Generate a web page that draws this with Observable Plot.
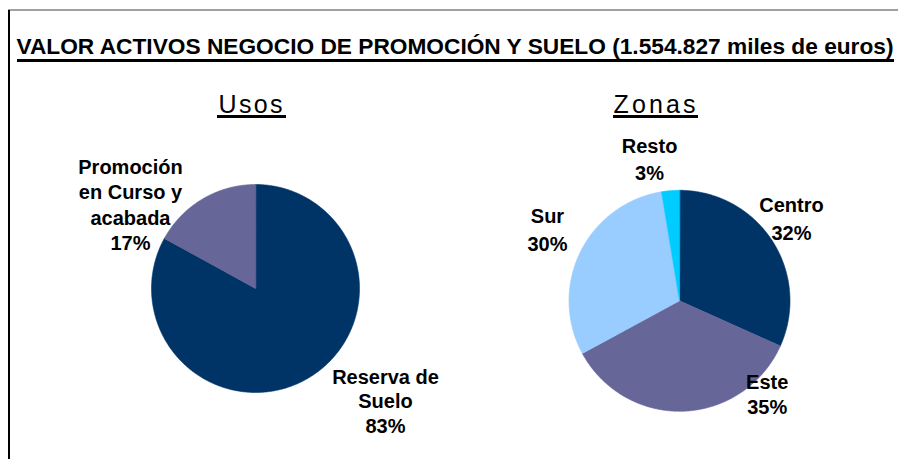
<!DOCTYPE html>
<html>
<head>
<meta charset="utf-8">
<script src="https://cdn.jsdelivr.net/npm/d3@7"></script>
<script src="https://cdn.jsdelivr.net/npm/@observablehq/plot@0.6"></script>
<style>
  html, body { margin: 0; padding: 0; background: #fff; }
  #wrap { position: relative; width: 898px; height: 459px; overflow: hidden; background: #fff;
          font-family: "Liberation Sans", Arial, Helvetica, sans-serif; }
  .abs { position: absolute; }
</style>
</head>
<body>
<div id="wrap"></div>
<script>
// ---------- DATA ----------
const titleText = "VALOR ACTIVOS NEGOCIO DE PROMOCIÓN Y SUELO (1.554.827 miles de euros)";
const usosTitle = "Usos";
const zonasTitle = "Zonas";

const usosCategories = ["Reserva de Suelo", "Promoción en Curso y acabada"];
const usosValues = [83, 17];
const usosLabels = ["Reserva de\nSuelo\n83%", "Promoción\nen Curso y\nacabada\n17%"];
const usosColors = ["#003366", "#666699"];

const zonasCategories = ["Centro", "Este", "Sur", "Resto"];
const zonasValues = [31.7, 35.4, 30.3, 2.6];
const zonasLabels = ["Centro\n32%", "Este\n35%", "Sur\n30%", "Resto\n3%"];
const zonasColors = ["#003366", "#666699", "#99CCFF", "#00CCFF"];

// ---------- LAYOUT ----------
const wrap = document.getElementById("wrap");
const FONT = '"Liberation Sans", Arial, Helvetica, sans-serif';

// header (frame, title and subtitles)
const ns = "http://www.w3.org/2000/svg";
const head = document.createElementNS(ns, "svg");
head.setAttribute("width", 898); head.setAttribute("height", 459);
head.setAttribute("class", "abs");
head.style.left = "0px"; head.style.top = "0px";
head.innerHTML = `
  <rect x="8" y="9.5" width="890" height="1" fill="#444"/>
  <rect x="8" y="10" width="2" height="449" fill="#000"/>
  <text x="16.5" y="54" font-family='${FONT}' font-weight="bold" font-size="22.5"
        textLength="877" lengthAdjust="spacingAndGlyphs" fill="#000">${titleText}</text>
  <rect x="17" y="59" width="877" height="3" fill="#000"/>
  <text x="218.5" y="112.5" font-family='${FONT}' font-size="25"
        textLength="64" lengthAdjust="spacing" fill="#000">${usosTitle}</text>
  <rect x="217" y="115" width="69" height="3" fill="#000"/>
  <text x="613.5" y="112.5" font-family='${FONT}' font-size="25"
        textLength="82" lengthAdjust="spacing" fill="#000">${zonasTitle}</text>
  <rect x="613" y="115" width="85" height="3" fill="#000"/>
`;
wrap.appendChild(head);

function pieChart({categories, values, labels, colors, W, H, cx, cy, R, labelLayout}) {
  const arcs = d3.pie().sort(null).startAngle(0).endAngle(2 * Math.PI)(values);
  const pts = [];
  arcs.forEach((a, i) => {
    const cat = categories[i];
    pts.push({cat, x: 0, y: 0});
    const n = Math.max(2, Math.ceil((a.endAngle - a.startAngle) / (Math.PI / 360)));
    for (let k = 0; k <= n; k++) {
      const t = a.startAngle + (a.endAngle - a.startAngle) * k / n;
      pts.push({cat, x: Math.sin(t), y: Math.cos(t)});
    }
  });
  const textMarks = labels.map((lab, i) => {
    const [deg, r, lh] = labelLayout[i];
    const t = deg * Math.PI / 180;
    return Plot.text([{lab, x: r * Math.sin(t), y: r * Math.cos(t)}], {
      x: "x", y: "y", text: "lab", fontSize: 20, fontWeight: "bold", dy: -3,
      fill: "#000", textAnchor: "middle", lineAnchor: "middle", lineHeight: lh
    });
  });
  return Plot.plot({
    width: W, height: H, margin: 0,
    style: {fontFamily: FONT, background: "transparent", overflow: "visible"},
    x: {domain: [-cx / R, (W - cx) / R], axis: null},
    y: {domain: [-(H - cy) / R, cy / R], axis: null},
    color: {domain: categories, range: colors},
    marks: [
      Plot.line(pts, {x: "x", y: "y", z: "cat", fill: "cat", stroke: "cat",
                      strokeWidth: 0.6, curve: "linear-closed"}),
      ...textMarks
    ]
  });
}

const left = pieChart({
  categories: usosCategories, values: usosValues, labels: usosLabels, colors: usosColors,
  W: 440, H: 334, cx: 245, cy: 163, R: 104,
  labelLayout: [[131.5, 1.669, 1.23], [303.1, 1.435, 1.27]]
});
left.classList.add("abs"); left.style.left = "10px"; left.style.top = "125px";
wrap.appendChild(left);

const right = pieChart({
  categories: zonasCategories, values: zonasValues, labels: zonasLabels, colors: zonasColors,
  W: 448, H: 334, cx: 229, cy: 175.3, R: 110.5,
  labelLayout: [[54.1, 1.251, 1.4], [137.5, 1.175, 1.25], [297.9, 1.352, 1.4], [347.9, 1.292, 1.33]]
});
right.classList.add("abs"); right.style.left = "450px"; right.style.top = "125px";
wrap.appendChild(right);
</script>
</body>
</html>
